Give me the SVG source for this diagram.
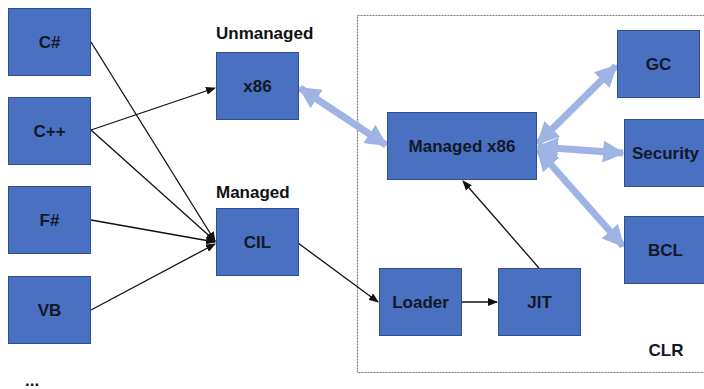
<svg xmlns="http://www.w3.org/2000/svg" width="704" height="389" viewBox="0 0 704 389">
<style>
.box{fill:#4a70c2;stroke:#2f4f8f;stroke-width:1}
.lbl{font-family:"Liberation Sans Narrow","Liberation Sans",Arial,sans-serif;font-weight:bold;font-size:17px;fill:#111827;text-anchor:middle}
.hdr{font-family:"Liberation Sans Narrow","Liberation Sans",Arial,sans-serif;font-weight:bold;font-size:17px;fill:#111;}
.thin{stroke:#111;stroke-width:1.3;fill:none;marker-end:url(#ah)}
.thick{stroke:#9fb4e4;stroke-width:7;fill:none;marker-end:url(#bh);marker-start:url(#bs)}
</style>
<defs>
<marker id="ah" markerWidth="10" markerHeight="8" refX="9" refY="4" orient="auto" markerUnits="userSpaceOnUse"><path d="M0,0 L10,4 L0,8 z" fill="#111"/></marker>
<marker id="bh" markerWidth="22" markerHeight="22" refX="20" refY="11" orient="auto" markerUnits="userSpaceOnUse"><path d="M0,0 L22,11 L0,22 z" fill="#9fb4e4"/></marker>
<marker id="bs" markerWidth="22" markerHeight="22" refX="2" refY="11" orient="auto" markerUnits="userSpaceOnUse"><path d="M22,0 L0,11 L22,22 z" fill="#9fb4e4"/></marker>
</defs>
<rect x="0" y="0" width="704" height="389" fill="#fff"/>
<g id="clr">
<rect x="357.5" y="15.5" width="360" height="357" fill="none" stroke="#777" stroke-width="1.2" stroke-dasharray="2,1"/>
<text class="lbl" x="666" y="356">CLR</text>
</g>
<g id="connectors">
<line class="thin" x1="91" y1="42" x2="215" y2="241"/>
<line class="thin" x1="91" y1="130" x2="215" y2="88"/>
<line class="thin" x1="91" y1="130" x2="215" y2="241"/>
<line class="thin" x1="91" y1="220" x2="215" y2="242"/>
<line class="thin" x1="91" y1="310" x2="215" y2="244"/>
<line class="thin" x1="298" y1="243" x2="378" y2="302"/>
<line class="thin" x1="462" y1="302" x2="497" y2="302"/>
<line class="thin" x1="539" y1="268" x2="463" y2="181"/>
<line class="thick" x1="300" y1="88" x2="386" y2="145"/>
<line class="thick" x1="538" y1="143" x2="616" y2="66"/>
<line class="thick" x1="538" y1="147" x2="623" y2="153"/>
<line class="thick" x1="538" y1="150" x2="623" y2="246"/>
</g>
<g id="cs"><rect class="box" x="8.5" y="8.5" width="82" height="67"/><text class="lbl" x="49.5" y="48">C#</text></g>
<g id="cpp"><rect class="box" x="8.5" y="97.5" width="82" height="67"/><text class="lbl" x="49.5" y="137">C++</text></g>
<g id="fs"><rect class="box" x="8.5" y="186.5" width="82" height="67"/><text class="lbl" x="49.5" y="226">F#</text></g>
<g id="vb"><rect class="box" x="8.5" y="276.5" width="82" height="67"/><text class="lbl" x="49.5" y="316">VB</text></g>
<g id="x86"><text class="hdr" x="216" y="39">Unmanaged</text><rect class="box" x="216.5" y="52.5" width="82" height="67"/><text class="lbl" x="257.5" y="92">x86</text></g>
<g id="cil"><text class="hdr" x="216" y="198">Managed</text><rect class="box" x="216.5" y="208.5" width="82" height="67"/><text class="lbl" x="257.5" y="248">CIL</text></g>
<g id="mx86"><rect class="box" x="387.5" y="112.5" width="149" height="67"/><text class="lbl" x="462" y="152">Managed x86</text></g>
<g id="gc"><rect class="box" x="617.5" y="30.5" width="82" height="67"/><text class="lbl" x="658.5" y="70">GC</text></g>
<g id="security"><rect class="box" x="624.5" y="119.5" width="82" height="67"/><text class="lbl" x="665.5" y="159">Security</text></g>
<g id="bcl"><rect class="box" x="624.5" y="216.5" width="82" height="67"/><text class="lbl" x="665.5" y="256">BCL</text></g>
<g id="loader"><rect class="box" x="379.5" y="268.5" width="82" height="67"/><text class="lbl" x="420.5" y="308">Loader</text></g>
<g id="jit"><rect class="box" x="498.5" y="268.5" width="82" height="67"/><text class="lbl" x="539.5" y="308">JIT</text></g>
<g id="more"><text class="hdr" x="25" y="386" font-size="15">...</text></g>
</svg>
